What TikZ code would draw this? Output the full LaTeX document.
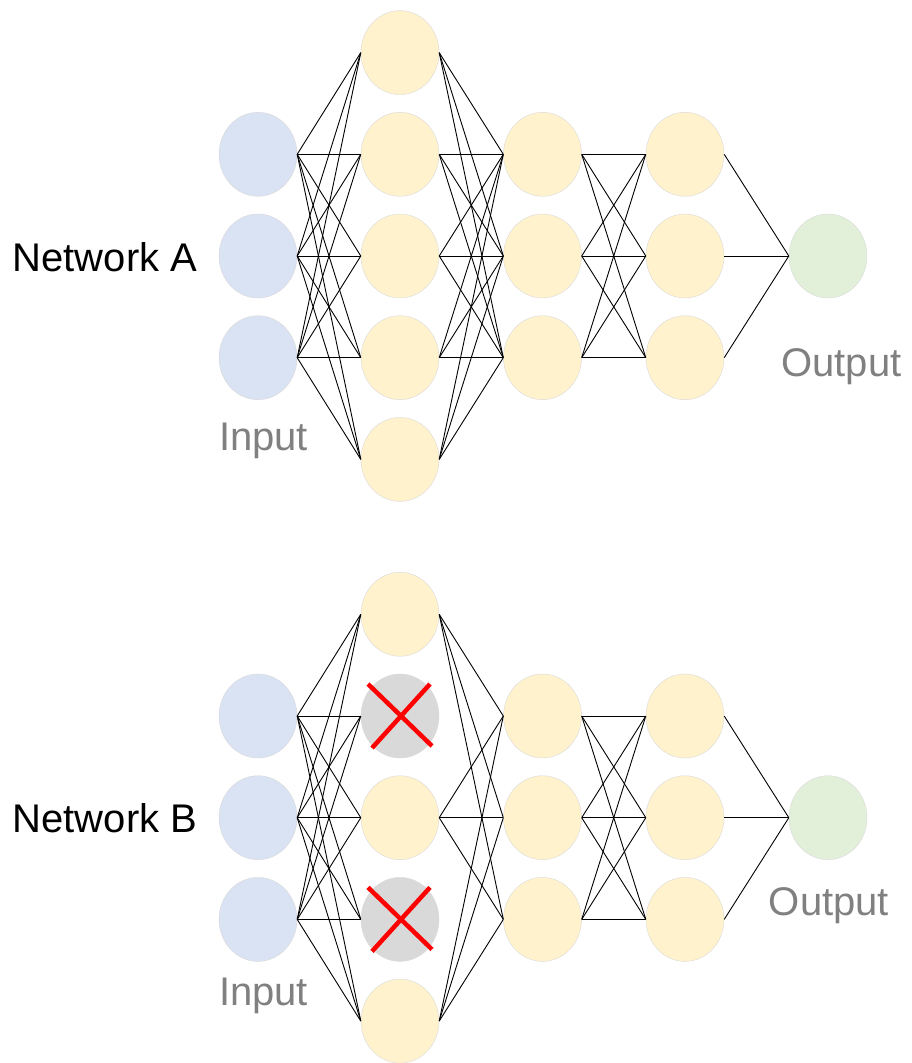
\documentclass[tikz,border=0pt]{standalone}
\usepackage{fontspec}
\setmainfont{Liberation Sans}
\usepackage{tikz}
\usetikzlibrary{shapes.geometric}
\definecolor{inblue}{RGB}{218,227,243}
\definecolor{hidyellow}{RGB}{255,242,204}
\definecolor{outgreen}{RGB}{226,240,217}
\definecolor{dropgray}{RGB}{217,217,217}
\definecolor{labelgray}{RGB}{128,128,128}
\definecolor{crossred}{RGB}{255,0,0}

\tikzset{
  neuron/.style={ellipse, minimum width=78pt, minimum height=84pt, inner sep=0pt, draw=black!15, line width=0.4pt},
  innode/.style={neuron, fill=inblue},
  hidnode/.style={neuron, fill=hidyellow},
  outnode/.style={neuron, fill=outgreen},
  dropnode/.style={neuron, fill=dropgray},
  wire/.style={draw=black, line width=0.9pt},
  netlabel/.style={font=\fontsize{40}{48}\selectfont, anchor=base, inner sep=0pt},
  iolabel/.style={netlabel, text=labelgray},
  dropcross/.style={draw=crossred, line width=4.5pt}
}

\begin{document}
\begin{tikzpicture}[x=1pt, y=-1pt]
  \path[use as bounding box] (0,0) rectangle (912,1063);

  % --- Network A: full net ---
  \foreach \i/\y in {1/154.3, 2/256, 3/357.7}
    \node[innode] (ai\i) at (258,\y) {};
  \foreach \i/\y in {1/52.6, 2/154.3, 3/256, 4/357.7, 5/459.4}
    \node[hidnode] (ah\i) at (400,\y) {};
  \foreach \i/\y in {1/154.3, 2/256, 3/357.7} {
    \node[hidnode] (ab\i) at (542.5,\y) {};
    \node[hidnode] (ac\i) at (685,\y) {};
  }
  \node[outnode] (ao) at (828,256) {};

  \foreach \a in {1,2,3}
    \foreach \b in {1,...,5} {
      \draw[wire] (ai\a.east) -- (ah\b.west);
      \draw[wire] (ah\b.east) -- (ab\a.west);
    }
  \foreach \a in {1,2,3} {
    \foreach \b in {1,2,3}
      \draw[wire] (ab\a.east) -- (ac\b.west);
    \draw[wire] (ac\a.east) -- (ao.west);
  }

  \node[netlabel] (neta) at (105,271.7) {Network A};
  \node[iolabel] (ina) at (263.5,450) {Input};
  \node[iolabel] (outa) at (841.5,376.7) {Output};

  % --- Network B: two hidden units dropped ---
  \foreach \i/\y in {1/716, 2/817.7, 3/919.4}
    \node[innode] (bi\i) at (258,\y) {};
  \foreach \i/\y/\s in {1/614.3/hidnode, 2/716/dropnode, 3/817.7/hidnode, 4/919.4/dropnode, 5/1021.1/hidnode}
    \node[\s] (bh\i) at (400,\y) {};
  \foreach \i/\y in {1/716, 2/817.7, 3/919.4} {
    \node[hidnode] (bb\i) at (542.5,\y) {};
    \node[hidnode] (bc\i) at (685,\y) {};
  }
  \node[outnode] (bo) at (828,817.7) {};

  \foreach \a in {1,2,3} {
    \foreach \b in {1,...,5}
      \draw[wire] (bi\a.east) -- (bh\b.west);
    \foreach \b in {1,3,5}
      \draw[wire] (bh\b.east) -- (bb\a.west);
    \foreach \b in {1,2,3}
      \draw[wire] (bb\a.east) -- (bc\b.west);
    \draw[wire] (bc\a.east) -- (bo.west);
  }

  % red crosses on the dropped units
  \foreach \n in {bh2, bh4} {
    \draw[dropcross] ([shift={(-32,-32)}]\n.center) -- ([shift={(32,30)}]\n.center);
    \draw[dropcross] ([shift={(30,-32)}]\n.center) -- ([shift={(-28,32)}]\n.center);
  }

  \node[netlabel] (netb) at (105,832.3) {Network B};
  \node[iolabel] (inb) at (263.5,1005) {Input};
  \node[iolabel] (outb) at (829,915) {Output};
\end{tikzpicture}
\end{document}
